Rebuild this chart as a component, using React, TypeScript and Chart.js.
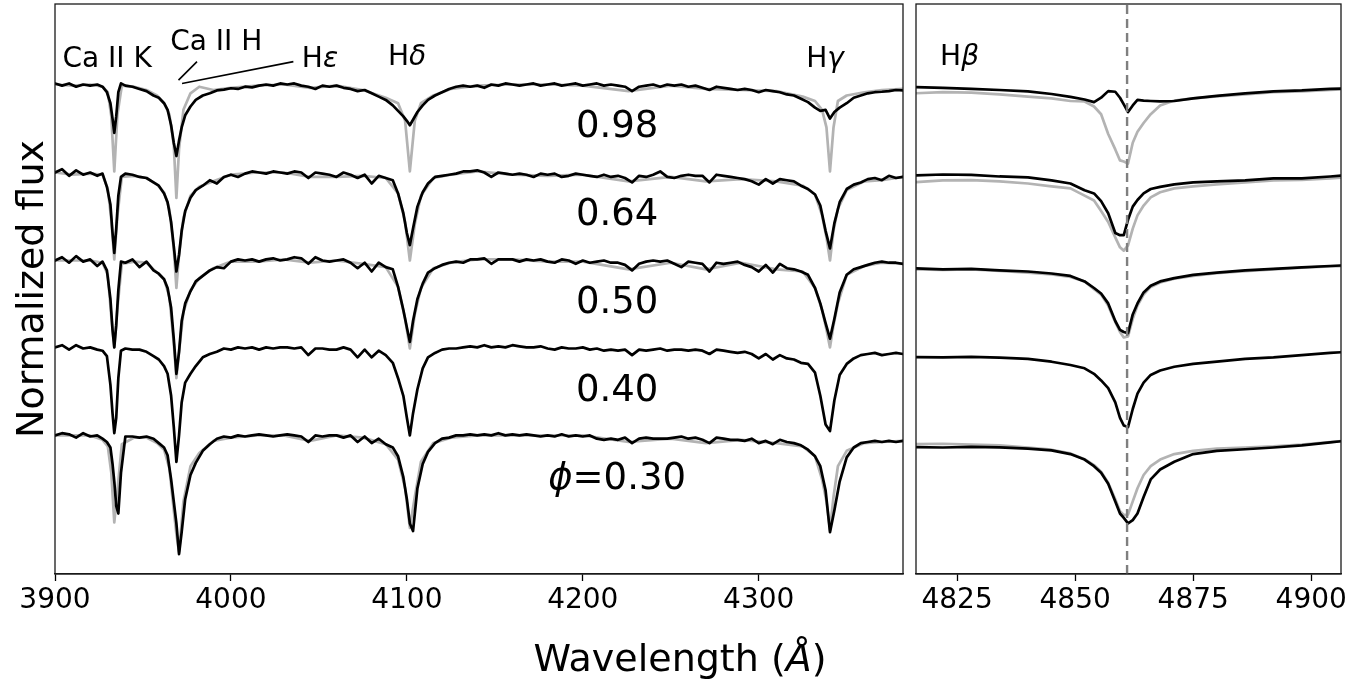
import React, { useEffect, useRef } from 'react';
import { Chart, registerables } from 'chart.js';

Chart.register(...registerables);

// ---------------- DATA ----------------
const PHASES = ['0.98', '0.64', '0.50', '0.40', '0.30'];
const OFFSETS = [1.6, 1.2, 0.8, 0.4, 0];
const TICKS_LEFT = [3900, 4000, 4100, 4200, 4300];
const TICKS_RIGHT = [4825, 4850, 4875, 4900];
const HBETA_REST = 4861;

// wavelength grid of the blue spectra (Å)
const WL_LEFT = [
  3900, 3904, 3908, 3912, 3916, 3920, 3924, 3927, 3929.5, 3931.5,
  3932.7, 3933.7, 3934.8, 3936, 3937.5, 3940, 3944, 3948, 3952, 3956,
  3959, 3962, 3964, 3966, 3967.5, 3969, 3970.5, 3972, 3974, 3977,
  3980, 3984, 3988, 3992, 3996, 4000, 4004, 4008, 4012, 4016,
  4020, 4024, 4028, 4032, 4036, 4040, 4044, 4048, 4052, 4056,
  4060, 4064, 4068, 4072, 4076, 4080, 4084, 4088, 4092, 4095,
  4098, 4100, 4101.7, 4103.5, 4106, 4109, 4112, 4116, 4120, 4124,
  4128, 4132, 4136, 4140, 4144, 4148, 4152, 4156, 4160, 4164,
  4168, 4172, 4176, 4180, 4184, 4188, 4192, 4196, 4200, 4204,
  4208, 4212, 4216, 4220, 4224, 4228, 4232, 4236, 4240, 4244,
  4248, 4252, 4256, 4260, 4264, 4268, 4272, 4276, 4280, 4284,
  4288, 4292, 4296, 4300, 4304, 4308, 4312, 4316, 4320, 4324,
  4328, 4332, 4335, 4338, 4340.5, 4343, 4346, 4350, 4354, 4358,
  4362, 4366, 4370, 4374, 4378, 4382,
];

// observed (black) normalized flux, one list per phase
const FLUX_098 = [
  1.0, 0.99, 1.0, 0.985, 0.995, 0.99, 0.995, 0.985, 0.96, 0.91,
  0.84, 0.775, 0.85, 0.96, 1.0, 0.99, 0.985, 0.975, 0.965, 0.945,
  0.935, 0.91, 0.88, 0.81, 0.73, 0.67, 0.74, 0.8, 0.855, 0.895,
  0.925, 0.945, 0.955, 0.968, 0.972, 0.978, 0.975, 0.985, 0.982, 0.99,
  0.995, 0.99, 1.0, 0.995, 1.0, 0.99, 0.985, 0.975, 0.99, 0.985,
  0.99, 0.98, 0.975, 0.965, 0.97, 0.955, 0.94, 0.925, 0.9, 0.875,
  0.85, 0.83, 0.81, 0.835, 0.87, 0.9, 0.925, 0.945, 0.96, 0.975,
  0.985, 0.99, 0.985, 0.99, 0.98, 0.995, 0.99, 1.0, 0.995, 0.99,
  0.995, 1.0, 0.99, 0.995, 1.0, 0.99, 0.995, 1.0, 0.99, 0.995,
  1.0, 0.99, 0.995, 0.99, 0.985, 0.965, 0.985, 0.99, 0.995, 0.985,
  0.995, 0.99, 0.995, 0.985, 0.99, 0.98, 0.97, 0.985, 0.98, 0.975,
  0.97, 0.975, 0.97, 0.96, 0.97, 0.965, 0.96, 0.95, 0.945, 0.93,
  0.915, 0.89, 0.875, 0.88, 0.84, 0.87, 0.89, 0.91, 0.935, 0.945,
  0.955, 0.96, 0.962, 0.965, 0.97, 0.968,
];
const FLUX_064 = [
  0.995, 1.01, 0.98, 1.005, 0.985, 0.995, 0.98, 0.99, 0.93, 0.85,
  0.72, 0.63, 0.74, 0.89, 0.975, 0.99, 0.985, 0.975, 0.97, 0.95,
  0.935, 0.9, 0.86, 0.77, 0.66, 0.545, 0.62, 0.73, 0.82, 0.88,
  0.915, 0.935, 0.96, 0.945, 0.975, 0.985, 0.975, 0.99, 1.0, 0.995,
  0.99, 1.0, 0.995, 0.99, 1.0, 0.995, 0.97, 0.995, 0.99, 0.985,
  0.975, 0.995, 0.985, 0.97, 0.985, 0.945, 0.98, 0.97, 0.96, 0.9,
  0.81, 0.72, 0.665, 0.74, 0.84, 0.905, 0.945, 0.975, 0.98, 0.985,
  0.99, 1.0, 1.0, 1.005, 0.995, 0.975, 0.995, 0.99, 0.985, 0.99,
  0.985, 0.975, 0.99, 0.985, 0.99, 0.975, 0.98, 0.99, 0.985, 0.98,
  0.975, 0.985, 0.975, 0.98, 0.97, 0.95, 0.98, 0.975, 0.985, 1.0,
  0.975, 0.97, 0.98, 0.985, 0.98, 0.98, 0.95, 0.985, 0.98, 0.975,
  0.97, 0.965, 0.955, 0.94, 0.965, 0.945, 0.965, 0.96, 0.955, 0.935,
  0.92, 0.895, 0.845, 0.73, 0.65, 0.765, 0.86, 0.92, 0.94, 0.95,
  0.965, 0.97, 0.96, 0.98, 0.97, 0.975,
];
const FLUX_050 = [
  0.995, 1.01, 0.985, 1.015, 0.99, 1.0, 0.97, 0.99, 0.95, 0.82,
  0.68, 0.6, 0.7, 0.86, 0.99, 0.985, 1.0, 0.965, 0.99, 0.95,
  0.935, 0.91, 0.87, 0.78, 0.64, 0.48, 0.58, 0.72, 0.8, 0.855,
  0.9, 0.925, 0.95, 0.965, 0.96, 0.99, 1.0, 0.995, 1.0, 0.99,
  1.0, 1.005, 0.995, 1.0, 1.01, 1.005, 0.98, 1.01, 0.995, 0.99,
  0.995, 1.0, 0.985, 0.96, 0.985, 0.945, 0.985, 0.965, 0.955, 0.875,
  0.77, 0.69, 0.625, 0.72, 0.82, 0.89, 0.94, 0.96, 0.975, 0.985,
  0.99, 0.985, 1.0, 1.0, 1.005, 0.98, 1.0, 1.0, 1.0, 0.99,
  1.0, 0.995, 1.0, 0.99, 0.985, 1.0, 0.995, 0.98, 0.995, 0.985,
  0.99, 0.995, 0.985, 0.985, 0.975, 0.95, 0.98, 0.99, 0.995, 0.99,
  0.995, 0.98, 0.965, 0.99, 0.985, 0.98, 0.945, 0.985, 0.98, 0.985,
  0.99, 0.975, 0.965, 0.945, 0.975, 0.94, 0.98, 0.96, 0.955, 0.945,
  0.93, 0.87, 0.8, 0.71, 0.64, 0.73, 0.85, 0.93, 0.955, 0.965,
  0.975, 0.985, 0.99, 0.985, 0.985, 0.98,
];
const FLUX_040 = [
  1.0, 1.01, 0.99, 1.01, 0.995, 1.0, 0.99, 0.985, 0.96, 0.83,
  0.7, 0.61, 0.68, 0.86, 0.985, 0.995, 0.99, 0.99, 0.98, 0.96,
  0.945, 0.915, 0.88, 0.78, 0.64, 0.48, 0.6, 0.75, 0.84, 0.88,
  0.915, 0.955, 0.97, 0.98, 0.995, 0.99, 1.0, 0.995, 1.0, 0.99,
  1.0, 0.995, 1.0, 1.0, 0.995, 1.0, 0.965, 0.995, 0.995, 0.99,
  0.99, 1.0, 0.99, 0.955, 0.99, 0.955, 0.985, 0.965, 0.93, 0.86,
  0.78, 0.68, 0.6, 0.7, 0.81, 0.905, 0.955, 0.975, 0.99, 0.995,
  0.995, 1.0, 1.005, 1.0, 1.01, 1.0, 1.005, 1.0, 1.01, 1.005,
  1.0, 1.0, 1.005, 0.995, 0.99, 1.0, 0.995, 0.995, 1.0, 0.99,
  0.995, 0.985, 0.99, 0.985, 0.99, 0.965, 0.99, 0.985, 0.99, 0.995,
  0.985, 0.99, 0.99, 0.985, 0.99, 0.985, 0.97, 0.99, 0.985, 0.98,
  0.975, 0.98, 0.97, 0.95, 0.97, 0.945, 0.965, 0.95, 0.945, 0.93,
  0.925, 0.885, 0.78, 0.65, 0.62, 0.76, 0.875, 0.925, 0.95, 0.965,
  0.97, 0.975, 0.965, 0.97, 0.975, 0.97,
];
const FLUX_030 = [
  1.0, 1.01, 1.005, 0.99, 1.01, 0.995, 1.0, 0.985, 0.97, 0.945,
  0.87, 0.79, 0.68, 0.645, 0.83, 0.995, 0.995, 0.99, 0.995, 0.985,
  0.965, 0.945, 0.91, 0.8, 0.7, 0.6, 0.46, 0.56, 0.71, 0.82,
  0.875, 0.93, 0.96, 0.985, 0.995, 0.99, 1.0, 0.995, 1.0, 1.005,
  1.0, 0.995, 1.0, 1.005, 1.0, 0.995, 0.97, 1.0, 0.995, 1.0,
  1.0, 0.99, 1.0, 0.97, 0.995, 0.965, 0.985, 0.96, 0.945, 0.905,
  0.81, 0.71, 0.6, 0.565, 0.76, 0.87, 0.925, 0.965, 0.985, 0.99,
  1.0, 1.0, 1.005, 1.0, 1.005, 1.0, 1.01, 1.0, 1.005, 1.0,
  1.005, 1.0, 0.995, 1.0, 0.995, 1.005, 0.995, 1.0, 0.995, 1.0,
  0.985, 0.98, 0.985, 0.98, 0.99, 0.965, 0.985, 0.99, 0.985, 0.985,
  0.985, 0.99, 0.995, 0.985, 0.99, 0.98, 0.965, 0.99, 0.985, 0.98,
  0.98, 0.975, 0.985, 0.965, 0.975, 0.96, 0.98, 0.97, 0.965, 0.955,
  0.935, 0.905, 0.86, 0.75, 0.56, 0.66, 0.79, 0.9, 0.945, 0.965,
  0.97, 0.975, 0.97, 0.975, 0.97, 0.975,
];

// reference (grey) spectra, coarser grid
const WL_LEFT_REF = [
  3900, 3910, 3920, 3927, 3930, 3932, 3933.7, 3935.5, 3938, 3945,
  3952, 3958, 3962, 3965, 3967.5, 3969, 3970.5, 3973, 3977, 3982,
  3990, 4000, 4015, 4030, 4045, 4060, 4075, 4088, 4095, 4099,
  4101.7, 4104.5, 4108, 4115, 4125, 4140, 4160, 4180, 4200, 4226,
  4250, 4270, 4290, 4310, 4325, 4332, 4336, 4338.5, 4340.5, 4342.5,
  4345, 4350, 4360, 4370, 4382,
];
const REF_098 = [
  0.995, 0.99, 0.995, 0.985, 0.96, 0.85, 0.6, 0.86, 0.99, 0.985,
  0.97, 0.945, 0.91, 0.86, 0.72, 0.48, 0.7, 0.88, 0.955, 0.985,
  0.97, 0.98, 0.99, 0.995, 0.98, 0.99, 0.97, 0.935, 0.91, 0.83,
  0.6, 0.83, 0.91, 0.945, 0.975, 0.99, 0.995, 0.995, 0.99, 0.965,
  0.99, 0.975, 0.97, 0.965, 0.94, 0.92, 0.88, 0.8, 0.6, 0.8,
  0.92, 0.945, 0.96, 0.97, 0.975,
];
const REF_064 = [
  0.995, 0.985, 0.99, 0.985, 0.92, 0.78, 0.6, 0.8, 0.975, 0.98,
  0.97, 0.94, 0.905, 0.83, 0.65, 0.47, 0.62, 0.79, 0.89, 0.93,
  0.955, 0.985, 0.995, 0.995, 0.975, 0.975, 0.98, 0.97, 0.9, 0.77,
  0.595, 0.76, 0.89, 0.97, 0.985, 1.0, 0.985, 0.98, 0.985, 0.955,
  0.975, 0.955, 0.965, 0.955, 0.935, 0.895, 0.8, 0.7, 0.595, 0.73,
  0.83, 0.915, 0.955, 0.96, 0.975,
];
const REF_050 = [
  0.995, 0.995, 0.995, 0.985, 0.93, 0.74, 0.6, 0.78, 0.98, 0.99,
  0.985, 0.94, 0.91, 0.83, 0.62, 0.46, 0.58, 0.76, 0.86, 0.915,
  0.96, 0.99, 0.99, 1.0, 0.985, 0.995, 0.98, 0.965, 0.875, 0.73,
  0.595, 0.75, 0.87, 0.96, 0.985, 1.0, 1.0, 0.99, 0.99, 0.955,
  0.985, 0.955, 0.985, 0.955, 0.945, 0.87, 0.77, 0.68, 0.6, 0.7,
  0.8, 0.93, 0.97, 0.985, 0.98,
];
const REF_030 = [
  1.0, 1.0, 1.0, 0.98, 0.95, 0.83, 0.605, 0.75, 0.96, 0.99,
  0.99, 0.965, 0.935, 0.85, 0.66, 0.55, 0.47, 0.7, 0.86, 0.92,
  0.975, 0.99, 1.0, 1.0, 0.975, 1.0, 0.99, 0.96, 0.89, 0.76,
  0.58, 0.72, 0.88, 0.965, 0.99, 1.0, 1.0, 1.0, 1.0, 0.97,
  0.985, 0.965, 0.98, 0.965, 0.95, 0.905, 0.8, 0.7, 0.57, 0.72,
  0.86, 0.93, 0.965, 0.97, 0.975,
];

// H-beta region
const WL_RIGHT = [
  4816, 4822, 4828, 4834, 4840, 4845, 4849, 4852, 4854, 4855.5,
  4857, 4858.5, 4859.5, 4860.3, 4861.2, 4862.2, 4863.2, 4864.5, 4866, 4868,
  4871, 4875, 4880, 4886, 4892, 4898, 4904, 4907,
];
const HB_098 = [
  0.983, 0.98, 0.975, 0.97, 0.964, 0.952, 0.939, 0.927, 0.915, 0.935,
  0.965, 0.962, 0.935, 0.905, 0.87, 0.9, 0.925, 0.922, 0.92, 0.918,
  0.92, 0.932, 0.943, 0.955, 0.964, 0.968, 0.975, 0.977,
];
const HB_064 = [
  0.982, 0.986, 0.984, 0.977, 0.973, 0.959, 0.945, 0.914, 0.9, 0.865,
  0.81, 0.72, 0.71, 0.71, 0.78, 0.84, 0.87, 0.9, 0.92, 0.93,
  0.941, 0.95, 0.955, 0.959, 0.968, 0.968, 0.977, 0.982,
];
const HB_050 = [
  0.959, 0.955, 0.957, 0.95, 0.945, 0.936, 0.925, 0.9, 0.87, 0.845,
  0.8, 0.72, 0.68, 0.67, 0.665, 0.75, 0.8, 0.85, 0.88, 0.9,
  0.915, 0.93, 0.94, 0.95, 0.957, 0.964, 0.97, 0.973,
];
const HB_040 = [
  0.956, 0.955, 0.957, 0.954, 0.948, 0.935, 0.92, 0.905, 0.88, 0.85,
  0.815, 0.75, 0.68, 0.645, 0.638, 0.72, 0.79, 0.84, 0.875, 0.895,
  0.912, 0.925, 0.935, 0.948, 0.955, 0.965, 0.975, 0.979,
];
const HB_030 = [
  0.947, 0.945, 0.948, 0.946, 0.94, 0.932, 0.915, 0.89, 0.86, 0.83,
  0.78, 0.7, 0.645, 0.625, 0.6, 0.615, 0.645, 0.72, 0.8, 0.845,
  0.88, 0.915, 0.93, 0.937, 0.945, 0.955, 0.968, 0.975,
];
const HB_REF_098 = [
  0.955, 0.96, 0.958, 0.95, 0.94, 0.932, 0.92, 0.918, 0.895, 0.86,
  0.77, 0.7, 0.65, 0.645, 0.636, 0.73, 0.78, 0.82, 0.86, 0.9,
  0.922, 0.932, 0.941, 0.95, 0.96, 0.964, 0.97, 0.973,
];
const HB_REF_064 = [
  0.951, 0.959, 0.96, 0.955, 0.945, 0.932, 0.923, 0.89, 0.868, 0.82,
  0.77, 0.7, 0.655, 0.64, 0.664, 0.74, 0.8, 0.845, 0.882, 0.905,
  0.923, 0.932, 0.941, 0.95, 0.959, 0.961, 0.968, 0.973,
];
const HB_REF_050 = [
  0.955, 0.952, 0.955, 0.948, 0.94, 0.932, 0.92, 0.9, 0.865, 0.84,
  0.79, 0.715, 0.67, 0.645, 0.65, 0.73, 0.79, 0.84, 0.875, 0.895,
  0.912, 0.925, 0.937, 0.947, 0.955, 0.962, 0.968, 0.97,
];
const HB_REF_030 = [
  0.96, 0.962, 0.958, 0.955, 0.945, 0.935, 0.918, 0.892, 0.865, 0.835,
  0.785, 0.71, 0.655, 0.638, 0.64, 0.7, 0.76, 0.82, 0.86, 0.89,
  0.915, 0.93, 0.94, 0.945, 0.95, 0.958, 0.97, 0.975,
];

// ---------------- LAYOUT / STYLE ----------------
const FONT = "'DejaVu Sans', sans-serif";
const Y_MIN = 0.37;
const Y_MAX = 2.961;
const BLACK = '#000000';
const GREY = '#b3b3b3';
const LW = 2.7;

const LEFT_BLACK = [FLUX_098, FLUX_064, FLUX_050, FLUX_040, FLUX_030];
const LEFT_GREY: (number[] | null)[] = [REF_098, REF_064, REF_050, null, REF_030];
const RIGHT_BLACK = [HB_098, HB_064, HB_050, HB_040, HB_030];
const RIGHT_GREY: (number[] | null)[] = [HB_REF_098, HB_REF_064, HB_REF_050, null, HB_REF_030];

type Run = { t: string; it?: boolean };

function drawRuns(ctx: CanvasRenderingContext2D, runs: Run[], x: number, y: number, size: number, align: 'left' | 'center') {
  const fonts = runs.map((r) => `${r.it ? 'italic ' : ''}${size}px ${FONT}`);
  const widths = runs.map((r, i) => {
    ctx.font = fonts[i];
    return ctx.measureText(r.t).width;
  });
  const total = widths.reduce((a, b) => a + b, 0);
  let cx = align === 'center' ? x - total / 2 : x;
  ctx.textAlign = 'left';
  ctx.textBaseline = 'alphabetic';
  ctx.fillStyle = '#000';
  runs.forEach((r, i) => {
    ctx.font = fonts[i];
    ctx.fillText(r.t, cx, y);
    cx += widths[i];
  });
}

function toPoints(wl: number[], flux: number[], off: number) {
  const n = Math.min(wl.length, flux.length);
  const pts: { x: number; y: number }[] = [];
  for (let i = 0; i < n; i++) pts.push({ x: wl[i], y: flux[i] + off });
  return pts;
}

function lineDs(data: { x: number; y: number }[], color: string, extra: any = {}) {
  return {
    data,
    borderColor: color,
    borderWidth: LW,
    pointRadius: 0,
    tension: 0,
    fill: false,
    borderJoinStyle: 'round',
    borderCapStyle: 'round',
    ...extra,
  };
}

const framePlugin = {
  id: 'frame',
  afterDraw(chart: any) {
    const { ctx, chartArea: a } = chart;
    ctx.save();
    ctx.strokeStyle = '#1a1a1a';
    ctx.lineWidth = 1.3;
    ctx.strokeRect(a.left, a.top, a.right - a.left, a.bottom - a.top);
    ctx.restore();
  },
};

const LINE_LABELS: { runs: Run[]; x: number; y: number }[] = [
  { runs: [{ t: 'Ca II K' }], x: 3904.2, y: 2.676 },
  { runs: [{ t: 'Ca II H' }], x: 3965.5, y: 2.752 },
  { runs: [{ t: 'H' }, { t: 'ε', it: true }], x: 4040.3, y: 2.676 },
  { runs: [{ t: 'H' }, { t: 'δ', it: true }], x: 4089.3, y: 2.684 },
  { runs: [{ t: 'H' }, { t: 'γ', it: true }], x: 4327, y: 2.676 },
];
const LEADERS = [
  [[3980.7, 2.699], [3970.2, 2.615]],
  [[4035.5, 2.699], [3972.2, 2.6]],
];
const PHASE_LABEL_X = 4219.5;
const PHASE_LABEL_DY = 0.755;

const leftText = {
  id: 'leftText',
  afterDraw(chart: any) {
    const { ctx } = chart;
    const xs = chart.scales.x;
    const ys = chart.scales.y;
    ctx.save();
    // phase labels
    PHASES.forEach((p, i) => {
      const runs: Run[] = i === PHASES.length - 1 ? [{ t: 'ϕ', it: true }, { t: '=' + p }] : [{ t: p }];
      drawRuns(ctx, runs, xs.getPixelForValue(PHASE_LABEL_X), ys.getPixelForValue(OFFSETS[i] + PHASE_LABEL_DY), 37, 'center');
    });
    // line identifications
    LINE_LABELS.forEach((l) => {
      drawRuns(ctx, l.runs, xs.getPixelForValue(l.x), ys.getPixelForValue(l.y), 28, 'left');
    });
    ctx.strokeStyle = '#000';
    ctx.lineWidth = 1.6;
    LEADERS.forEach((seg) => {
      ctx.beginPath();
      ctx.moveTo(xs.getPixelForValue(seg[0][0]), ys.getPixelForValue(seg[0][1]));
      ctx.lineTo(xs.getPixelForValue(seg[1][0]), ys.getPixelForValue(seg[1][1]));
      ctx.stroke();
    });
    // axis titles
    drawRuns(ctx, [{ t: 'Wavelength (' }, { t: 'Å', it: true }, { t: ')' }], 680, 671, 38, 'center');
    ctx.translate(43, 289);
    ctx.rotate(-Math.PI / 2);
    drawRuns(ctx, [{ t: 'Normalized flux' }], 0, 0, 38, 'center');
    ctx.restore();
  },
};

const rightText = {
  id: 'rightText',
  afterDraw(chart: any) {
    const { ctx } = chart;
    const xs = chart.scales.x;
    const ys = chart.scales.y;
    ctx.save();
    drawRuns(ctx, [{ t: 'H' }, { t: 'β', it: true }], xs.getPixelForValue(4821.4), ys.getPixelForValue(2.684), 28, 'left');
    ctx.restore();
  },
};

function xAxis(min: number, max: number, ticks: number[]) {
  return {
    type: 'linear',
    min,
    max,
    afterBuildTicks: (s: any) => {
      s.ticks = ticks.map((v) => ({ value: v }));
    },
    afterFit: (s: any) => {
      s.height = 105;
      s.paddingLeft = 0;
      s.paddingRight = 0;
    },
    grid: { drawOnChartArea: false, drawTicks: true, tickLength: 7, tickColor: '#000', tickWidth: 1.3 },
    border: { display: true, color: '#1a1a1a', width: 1.3 },
    ticks: {
      color: '#000',
      font: { family: FONT, size: 28 },
      padding: 3,
      maxRotation: 0,
      autoSkip: false,
      callback: (v: any) => String(v),
    },
  };
}

export default function App() {
  const leftRef = useRef<HTMLCanvasElement>(null);
  const rightRef = useRef<HTMLCanvasElement>(null);

  useEffect(() => {
    const leftDatasets: any[] = [];
    LEFT_BLACK.forEach((f, i) => leftDatasets.push(lineDs(toPoints(WL_LEFT, f, OFFSETS[i]), BLACK)));
    LEFT_GREY.forEach((f, i) => {
      if (f) leftDatasets.push(lineDs(toPoints(WL_LEFT_REF, f, OFFSETS[i]), GREY));
    });

    const rightDatasets: any[] = [];
    rightDatasets.push(
      lineDs(
        [
          { x: HBETA_REST, y: Y_MIN },
          { x: HBETA_REST, y: Y_MAX },
        ],
        '#7f7f7f',
        { borderDash: [9, 5], borderWidth: 2.4, borderCapStyle: 'butt' }
      )
    );
    RIGHT_BLACK.forEach((f, i) => rightDatasets.push(lineDs(toPoints(WL_RIGHT, f, OFFSETS[i]), BLACK)));
    RIGHT_GREY.forEach((f, i) => {
      if (f) rightDatasets.push(lineDs(toPoints(WL_RIGHT, f, OFFSETS[i]), GREY));
    });

    const common = {
      animation: false,
      responsive: false,
      maintainAspectRatio: false,
      parsing: false,
      plugins: { legend: { display: false }, tooltip: { enabled: false } },
      events: [],
    };

    const left = new Chart(leftRef.current!, {
      type: 'line',
      data: { datasets: leftDatasets },
      options: {
        ...common,
        layout: { padding: { left: 55, top: 4, right: 7, bottom: 0 } },
        scales: {
          x: xAxis(3900, 4382, TICKS_LEFT),
          y: { display: false, min: Y_MIN, max: Y_MAX },
        },
      } as any,
      plugins: [framePlugin, leftText],
    });

    const right = new Chart(rightRef.current!, {
      type: 'line',
      data: { datasets: rightDatasets },
      options: {
        ...common,
        layout: { padding: { left: 6, top: 4, right: 27, bottom: 0 } },
        scales: {
          x: xAxis(4816.3, 4906.3, TICKS_RIGHT),
          y: { display: false, min: Y_MIN, max: Y_MAX },
        },
      } as any,
      plugins: [framePlugin, rightText],
    });

    return () => {
      left.destroy();
      right.destroy();
    };
  }, []);

  return (
    <div style={{ position: 'fixed', left: 0, top: 0, width: 1368, height: 679, background: '#fff' }}>
      <canvas ref={leftRef} width={910} height={679} style={{ position: 'absolute', left: 0, top: 0 }} />
      <canvas ref={rightRef} width={458} height={679} style={{ position: 'absolute', left: 910, top: 0 }} />
    </div>
  );
}
